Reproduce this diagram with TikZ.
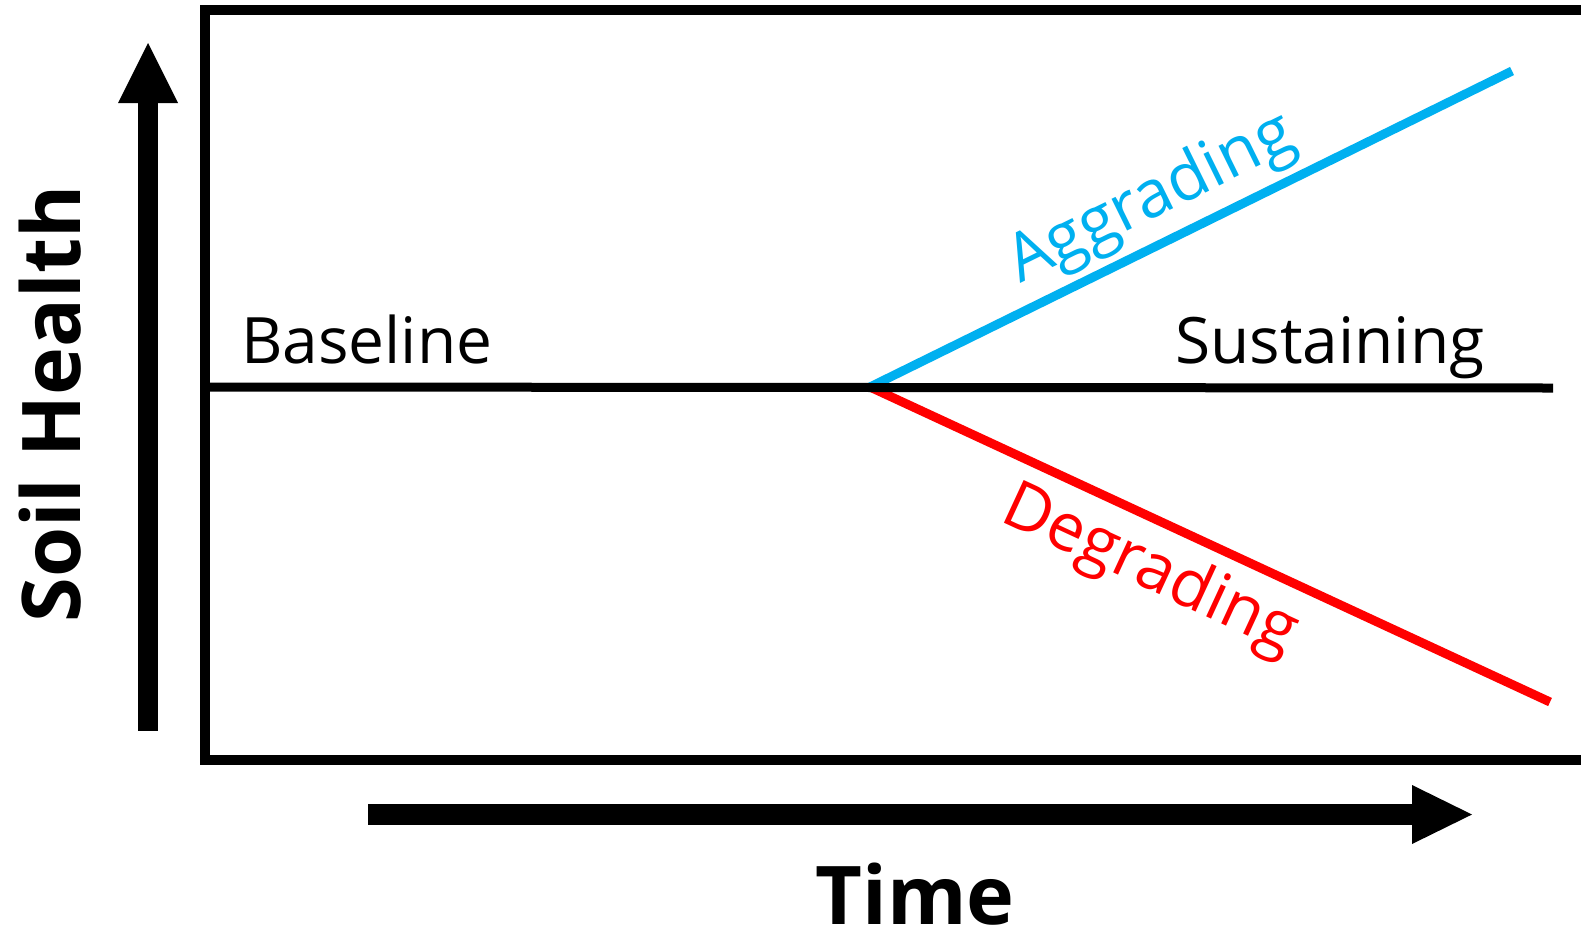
\documentclass[tikz,border=0pt]{standalone}
\usepackage{fontspec}
\setmainfont{Open Sans}
\definecolor{aggr}{RGB}{0,176,240}
\definecolor{degr}{RGB}{255,0,0}
\begin{document}
\begin{tikzpicture}[x=1pt,y=-1pt,
  frame/.style={line width=10pt},
  trend/.style={line width=9pt},
  lbl/.style={inner sep=0pt, font=\fontsize{64}{76}\selectfont},
  slbl/.style={inner sep=0pt, font=\fontsize{66}{78}\selectfont},
  axlbl/.style={inner sep=0pt, font=\fontsize{81}{95}\selectfont\bfseries}]
\clip (0,0) rectangle (1581,932);
\fill[white] (0,0) rectangle (1581,932);
\draw[frame] (205,10) rectangle (1620,760);
\coordinate (O) at (870,387);
\coordinate (BL) at (205,387);
\coordinate (BR) at (1553,388);
\coordinate (AG) at (1512,71);
\coordinate (DG) at (1550,702);
\draw[trend, aggr] (O) -- (AG);
\draw[trend, degr] (O) -- (DG);
\draw[trend] (BL) -- (BR);
% y axis arrow
\fill (138,731) rectangle (158,102);
\fill (148,43) -- (178,103) -- (118,103) -- cycle;
% x axis arrow
\fill (368,804) rectangle (1413,825);
\fill (1472,814.5) -- (1412,844) -- (1412,785) -- cycle;
% labels
\node[lbl, anchor=base west] (baseline) at (241,363) {Baseline};
\node[lbl, anchor=base west] (sust) at (1175,363) {Sustaining};
\node[slbl, text=aggr, anchor=base west, rotate=26.2] (aggrlbl) at (1020,284) {Aggrading};
\node[slbl, text=degr, anchor=base west, rotate=-24.8] (degrlbl) at (998,520) {Degrading};
\node[axlbl, anchor=base, rotate=90] (ylbl) at (80,404) {Soil Health};
\node[axlbl, anchor=base] (xlbl) at (915,924) {Time};
\end{tikzpicture}
\end{document}
